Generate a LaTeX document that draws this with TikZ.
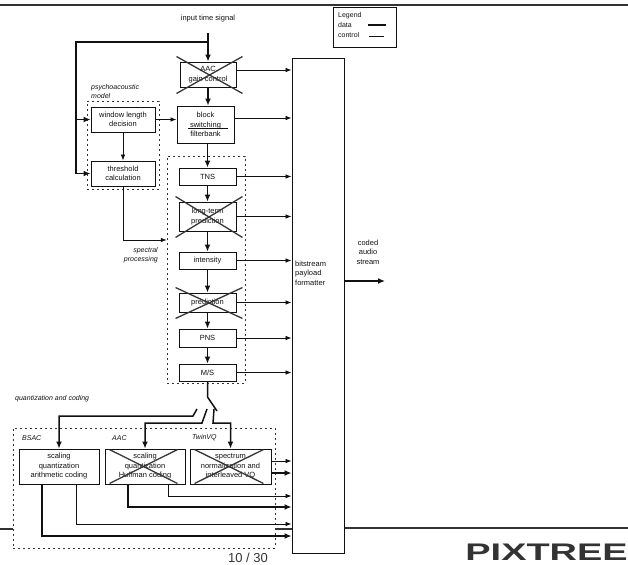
\documentclass[tikz,border=0pt]{standalone}
\usepackage{fontspec}
\setmainfont{Liberation Sans}
\usetikzlibrary{arrows.meta,calc}
\definecolor{ScanBlack}{HTML}{111111}
\definecolor{RuleGray}{HTML}{333333}

\begin{document}
\begin{tikzpicture}[
    x=1pt, y=-1pt,
    blockbox/.style={draw=ScanBlack, fill=white, line width=0.9pt, inner sep=0pt, align=center, font=\fontsize{7.5}{9.5}\selectfont, text=ScanBlack},
    groupbox/.style={draw=RuleGray, line width=0.5pt, dash pattern=on 2pt off 3pt, inner sep=0pt},
    lbl/.style={font=\fontsize{7}{9.5}\selectfont\itshape, align=left, text=ScanBlack, inner sep=0pt},
    plainlbl/.style={font=\fontsize{7.5}{9.5}\selectfont, align=center, text=ScanBlack, inner sep=0pt},
    dataarr/.style={-{Latex[length=7pt,width=6pt]}, draw=ScanBlack, line width=1.5pt},
    ctrlarr/.style={-{Latex[length=6pt,width=4.5pt]}, draw=ScanBlack, line width=0.7pt},
    dataline/.style={draw=ScanBlack, line width=1.5pt},
    ctrlline/.style={draw=ScanBlack, line width=0.7pt},
    crossline/.style={draw=ScanBlack!85, line width=1.3pt},
    scanrule/.style={draw=RuleGray, line width=1.2pt}
  ]
    \useasboundingbox (0,0) rectangle (628,564);

    \draw[scanrule] (0,5) -- (628,5);
    \draw[scanrule] (344,528) -- (628,528);
    \draw[scanrule] (0,529) -- (13,529);
    \draw[scanrule] (275,529) -- (292,529);

    \node[groupbox, minimum width=72pt, minimum height=88pt] (psygroup) at (123,145) {};
    \node[groupbox, minimum width=78pt, minimum height=227pt] (specgroup) at (206,269.5) {};
    \node[groupbox, minimum width=262pt, minimum height=120pt] (quantgroup) at (144,488) {};

    \node[blockbox, minimum width=56pt, minimum height=25pt] (gain) at (208,74.5) {AAC\\gain control};
    \node[blockbox, minimum width=57pt, minimum height=37pt] (block) at (205.5,124.5) {block\\switching\\filterbank};
    \node[blockbox, minimum width=57pt, minimum height=17pt] (tns) at (207.5,176.5) {TNS};
    \node[blockbox, minimum width=57pt, minimum height=29pt] (ltp) at (207.5,216.5) {long-term\\prediction};
    \node[blockbox, minimum width=57pt, minimum height=17pt] (intens) at (207.5,260.5) {intensity};
    \node[blockbox, minimum width=57pt, minimum height=19pt] (pred) at (207.5,302.5) {prediction};
    \node[blockbox, minimum width=57pt, minimum height=18pt] (pns) at (207.5,338) {PNS};
    \node[blockbox, minimum width=57pt, minimum height=17pt] (ms) at (207.5,372.5) {M/S};

    \node[blockbox, minimum width=64pt, minimum height=25pt] (window) at (123,119.5) {window length\\decision};
    \node[blockbox, minimum width=64pt, minimum height=25pt] (thresh) at (123,173.5) {threshold\\calculation};

    \node[blockbox, minimum width=80pt, minimum height=35pt] (bsac) at (59,466.5) {scaling\\quantization\\arithmetic coding};
    \node[blockbox, minimum width=80pt, minimum height=35pt] (aac) at (145,466.5) {scaling\\quantization\\Huffman coding};
    \node[blockbox, minimum width=81pt, minimum height=35pt] (twin) at (230.5,466.5) {spectrum\\normalization and\\interleaved VQ};

    \node[blockbox, minimum width=52pt, minimum height=495pt] (fmt) at (318,305.5) {};
    \node[plainlbl, align=left, anchor=west] (fmtlbl) at (295,273) {bitstream\\payload\\formatter};

    \draw[ctrlline] (188,128) -- (228,128);

    \node[plainlbl] (inlbl) at (208,19) {input time signal};
    \node[plainlbl] (outlbl) at (368,252) {coded\\audio\\stream};
    \node[lbl, anchor=west] (psylbl) at (91,91.5) {psychoacoustic\\model};
    \node[lbl, align=right, anchor=east] (speclbl) at (158,255) {spectral\\processing};
    \node[lbl, anchor=west] (quantlbl) at (15,399) {quantization and coding};
    \node[lbl, anchor=west] (bsaclbl) at (22,438) {BSAC};
    \node[lbl, anchor=west] (aaclbl) at (112,438) {AAC};
    \node[lbl, anchor=west] (twinlbl) at (192,438) {TwinVQ};
    \node[font=\fontsize{13}{15}\selectfont, text=RuleGray, inner sep=0pt] (pagelbl) at (248,558) {10 / 30};
    \node[font=\fontsize{24}{24}\selectfont\bfseries, text=RuleGray, inner sep=0pt, xscale=1.58, anchor=east] (logo) at (628,552) {PIXTREE};

    \node[draw=ScanBlack, line width=0.8pt, minimum width=63pt, minimum height=40pt, inner sep=0pt] (legend) at (364.5,27) {};
    \node[font=\fontsize{7}{8}\selectfont, text=ScanBlack, inner sep=0pt, anchor=west] (legtitle) at (338,16) {Legend};
    \node[font=\fontsize{7}{8}\selectfont, text=ScanBlack, inner sep=0pt, anchor=west] (legdata) at (338,25.5) {data};
    \node[font=\fontsize{7}{8}\selectfont, text=ScanBlack, inner sep=0pt, anchor=west] (legctrl) at (338,35) {control};
    \coordinate (legdataend) at (386,25);
    \coordinate (legctrlend) at (384,36);
    \draw[dataline] (368,25) -- (legdataend);
    \draw[ctrlline] (369,36) -- (legctrlend);

    \foreach \n in {gain,ltp,pred}
      \draw[crossline] ($(\n.north west)+(-3,-5)$) -- ($(\n.south east)+(6,6)$)
                       ($(\n.north east)+(6,-5)$) -- ($(\n.south west)+(-3,6)$);
    \foreach \n in {aac,twin}
      \draw[crossline] ($(\n.north west)+(5,1)$) -- ($(\n.south east)+(-8,-1)$)
                       ($(\n.north east)+(-8,1)$) -- ($(\n.south west)+(5,-1)$);

    \coordinate (inp) at (208,33);
    \coordinate (branch) at (208,42);
    \coordinate (leftrail) at (76,42);
    \draw[dataarr] (inp) -- (gain.north);
    \draw[dataarr] (branch) -- (leftrail) -- (leftrail |- thresh.west) -- (thresh.west);
    \draw[dataarr] (leftrail |- window.west) -- (window.west);

    \draw[dataarr] (gain.south) -- (gain.south |- block.north);
    \draw[dataarr] (block.south -| tns.north) -- (tns.north);
    \foreach \a/\b in {tns/ltp,ltp/intens,intens/pred,pred/pns,pns/ms}
      \draw[dataarr] (\a.south) -- (\b.north);

    \draw[ctrlarr] (window.east) -- (window.east -| block.west);
    \draw[ctrlarr] (window.south) -- (thresh.north);
    \draw[ctrlarr] (thresh.south) -- (123,240) -- (123,240 -| specgroup.west);

    \draw[ctrlarr] (gain.east |- 0,70) -- (fmt.west |- 0,70);
    \draw[ctrlarr] (block.east |- 0,118) -- (fmt.west |- 0,118);
    \foreach \n in {tns,ltp,intens,pred,pns,ms}
      \draw[ctrlarr] (\n.east) -- (\n.east -| fmt.west);

    \coordinate (swin) at (207.5,397);
    \coordinate (swtip) at (217,411);
    \coordinate (sw1) at (197,409);
    \coordinate (sw2) at (207,409);
    \coordinate (sw3) at (214,409);
    \draw[dataline] (ms.south) -- (swin) -- (swtip);
    \draw[dataarr] (sw1) -- (193,416) -- (bsac.north |- 0,416) -- (bsac.north);
    \draw[dataarr] (sw2) -- (202,423) -- (aac.north |- 0,423) -- (aac.north);
    \draw[dataarr] (sw3) -- (213,423) -- (twin.north |- 0,423) -- (twin.north);

    \draw[ctrlarr] (twin.east |- 0,461) -- (fmt.west |- 0,461);
    \draw[dataarr] (twin.east |- 0,473) -- (fmt.west |- 0,473);
    \draw[ctrlarr] (168,484) -- (168,496) -- (fmt.west |- 0,496);
    \draw[dataarr] (128,484) -- (128,507) -- (fmt.west |- 0,507);
    \draw[ctrlarr] (76,484) -- (76,524) -- (fmt.west |- 0,524);
    \draw[dataarr] (42,484) -- (42,536) -- (fmt.west |- 0,536);

    \coordinate (outend) at (385,281);
    \draw[dataarr] (fmt.east |- outend) -- (outend);
  \end{tikzpicture}
\end{document}
